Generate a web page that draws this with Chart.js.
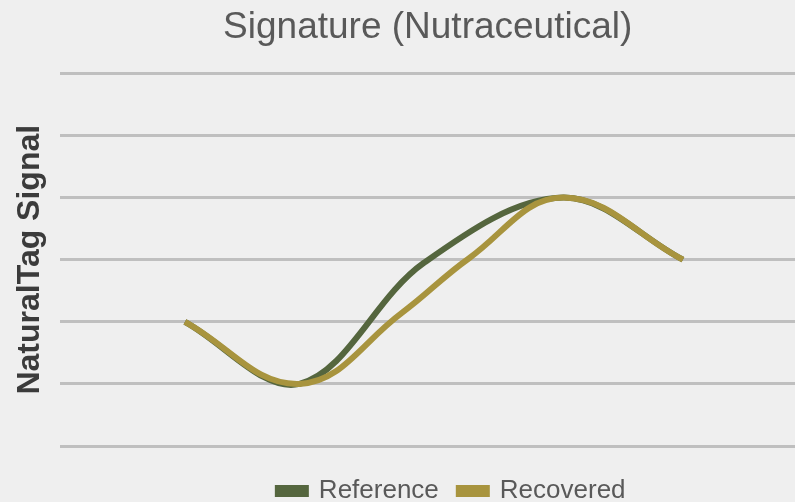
<!DOCTYPE html>
<html lang="en">
<head>
<meta charset="UTF-8">
<title>Signature (Nutraceutical)</title>
<style>
  body { margin: 0; padding: 0; background-color: #efefef; }
  .wrap { width: 795px; height: 502px; position: relative; }
</style>
<script src="https://cdn.jsdelivr.net/npm/chart.js"></script>
</head>
<body>
<div class="wrap"><canvas id="sigChart" width="795" height="502"></canvas></div>
<script>
// values (x in arbitrary run units, y in gridline units)
const seriesNames = ['Reference', 'Recovered'];
const refX = [0, 2.3, 4.8, 7.6, 10];
const refY = [2, 1, 2.95, 4, 3];
const recX = [0, 2.3, 4.35, 5.7, 7.6, 10];
const recY = [2, 1, 2.14, 3.02, 4, 3];
const yTicks = [0, 1, 2, 3, 4, 5, 6];

function toPoints(xs, ys) {
    return xs.map(function (x, i) { return { x: x, y: ys[i] }; });
}

const bgPlugin = {
    id: 'bg',
    beforeDraw: function (chart) {
        const ctx = chart.ctx;
        ctx.save();
        ctx.fillStyle = '#efefef';
        ctx.fillRect(0, 0, chart.width, chart.height);
        ctx.restore();
    }
};

// legend in the original sits a little right of centre and lower down
const legendNudge = {
    id: 'legendNudge',
    afterLayout: function (chart) {
        chart.legend.left += 24;
        chart.legend.right += 24;
        chart.legend.top += 12;
        chart.legend.bottom += 12;
    }
};

// Recovered listed first so it is painted over Reference; legend reversed back
new Chart(document.getElementById('sigChart').getContext('2d'), {
    type: 'scatter',
    data: {
        datasets: [
            {
                label: seriesNames[1],
                data: toPoints(recX, recY),
                showLine: true,
                borderColor: '#a8943e',
                backgroundColor: '#a8943e',
                borderWidth: 6,
                pointRadius: 0,
                tension: 0.4
            },
            {
                label: seriesNames[0],
                data: toPoints(refX, refY),
                showLine: true,
                borderColor: '#55663e',
                backgroundColor: '#55663e',
                borderWidth: 6,
                pointRadius: 0,
                tension: 0.35
            }
        ]
    },
    options: {
        responsive: false,
        animation: false,
        layout: { padding: { left: 8, right: 0, top: 6, bottom: 0 } },
        plugins: {
            title: {
                display: true,
                text: 'Signature (Nutraceutical)',
                fullSize: false,
                color: '#595959',
                font: { family: 'Liberation Sans, Arial, sans-serif', size: 37, weight: 'normal' },
                padding: { top: 0, bottom: 23 }
            },
            legend: {
                position: 'bottom',
                reverse: true,
                fullSize: false,
                labels: {
                    color: '#595959',
                    font: { family: 'Liberation Sans, Arial, sans-serif', size: 26 },
                    boxWidth: 28,
                    boxHeight: 6,
                    padding: 20
                }
            },
            tooltip: { enabled: false }
        },
        scales: {
            x: {
                type: 'linear',
                min: -2.5,
                max: 12.25,
                display: false
            },
            y: {
                min: 0,
                max: 6,
                afterBuildTicks: function (axis) {
                    axis.ticks = yTicks.map(function (v) { return { value: v }; });
                },
                ticks: { display: false },
                border: { display: false },
                grid: { color: '#bfbfbf', lineWidth: 3, drawTicks: false },
                title: {
                    display: true,
                    text: 'NaturalTag Signal',
                    color: '#3b3b3b',
                    font: { family: 'Liberation Sans, Arial, sans-serif', size: 32, weight: 'bold' },
                    padding: { top: 3, bottom: 11 }
                }
            }
        }
    },
    plugins: [bgPlugin, legendNudge]
});
</script>
</body>
</html>
